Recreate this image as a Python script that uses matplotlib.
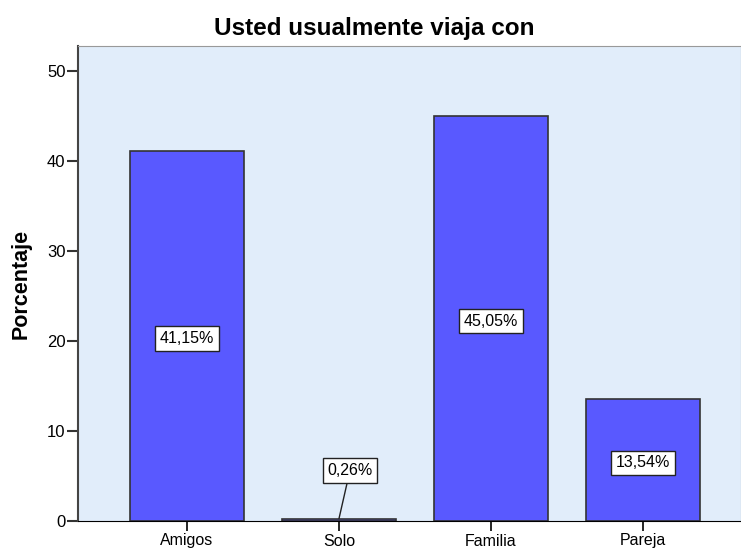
import matplotlib
matplotlib.use("Agg")
import matplotlib.pyplot as plt

categories = ["Amigos", "Solo", "Familia", "Pareja"]
percentages = [41.15, 0.26, 45.05, 13.54]
label_texts = ["41,15%", "0,26%", "45,05%", "13,54%"]
y_ticks = [0, 10, 20, 30, 40, 50]

plt.rcParams["font.family"] = ["Liberation Sans", "DejaVu Sans"]

fig = plt.figure(figsize=(7.41, 5.51), dpi=100)
ax = fig.add_axes([78 / 741, 30 / 551, 663 / 741, 475 / 551])
ax.set_facecolor("#e1edfa")

x = list(range(len(categories)))
ax.bar(x, percentages, width=0.75, color="#5959ff", edgecolor="#333333", linewidth=1.2)

box = dict(boxstyle="square,pad=0.3", facecolor="white", edgecolor="#222222", linewidth=1)
for xi, val, txt in zip(x, percentages, label_texts):
    if val < 3:
        ax.annotate(txt, xy=(xi, val), xytext=(xi + 0.072, 5.6), ha="center", va="center",
                    fontsize=11.5, bbox=box,
                    arrowprops=dict(arrowstyle="-", color="#222222", lw=1, shrinkA=0, shrinkB=0))
    else:
        ax.text(xi, val / 2 - 0.3, txt, ha="center", va="center", fontsize=11.5, bbox=box)

ax.set_xlim(-0.717, 3.645)
ax.set_ylim(0, 52.8)
ax.set_yticks(y_ticks)
ax.set_xticks(x)
ax.set_xticklabels(categories)
ax.tick_params(axis="y", direction="out", length=8, width=1.5, labelsize=12, color="#333333", pad=1)
ax.tick_params(axis="x", direction="out", length=7, width=1.2, labelsize=11.5, pad=2)

for side in ["top", "right"]:
    ax.spines[side].set_color("#999999")
ax.spines["left"].set_color("#444444")
ax.spines["left"].set_linewidth(1.5)
ax.spines["bottom"].set_color("black")

ax.set_ylabel("Porcentaje", fontsize=15.5, fontweight="bold", labelpad=11)
fig.text(374 / 741, 1 - 28 / 551, "Usted usualmente viaja con", ha="center", va="center",
         fontsize=17.5, fontweight="bold")

fig.savefig("out.png", dpi=100)
